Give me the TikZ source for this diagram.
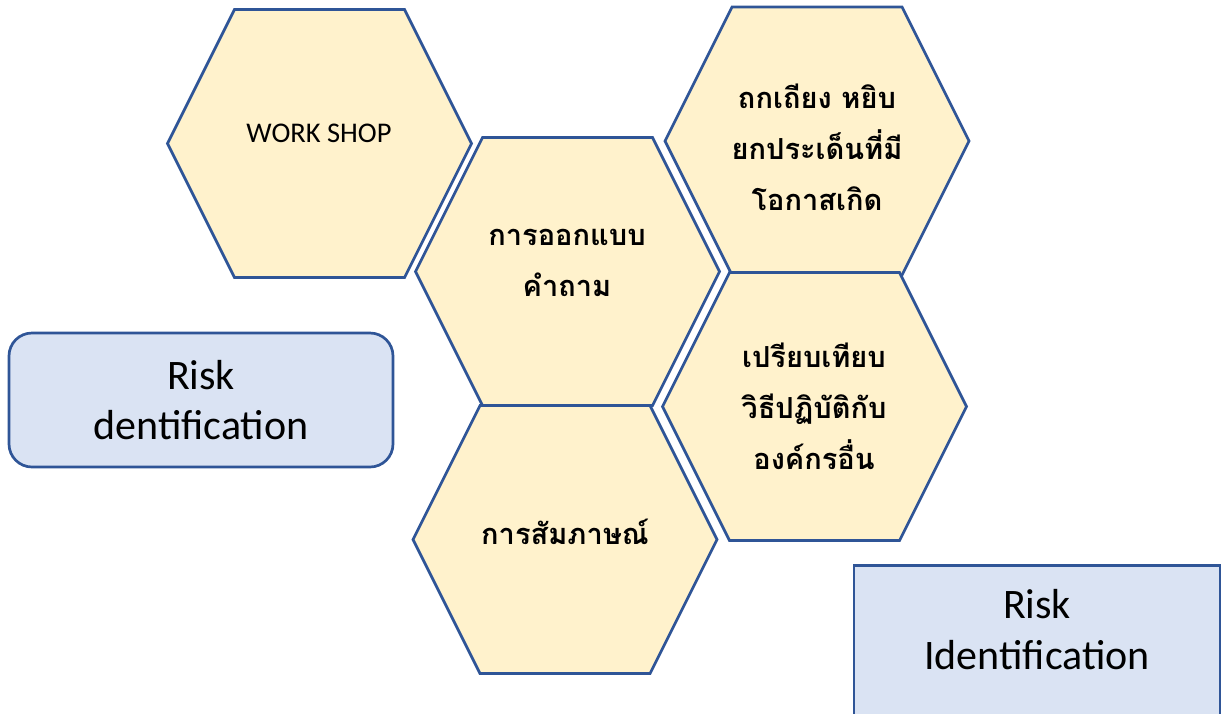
\documentclass[tikz,border=0pt]{standalone}
\usepackage{fontspec}
\setmainfont{Carlito}
\newfontfamily\thaifont[Script=Thai]{Loma}
\usepackage{tikz}
\definecolor{hexfill}{HTML}{FFF2CC}
\definecolor{boxfill}{HTML}{DAE3F3}
\definecolor{edgeblue}{HTML}{2F5597}
\tikzstyle{hex}=[draw=edgeblue, fill=hexfill, line width=2.7pt, line join=miter]
\tikzstyle{hexlabel}=[align=center, inner sep=0pt, font=\thaifont\bfseries\fontsize{29}{51}\selectfont]
\tikzstyle{wslabel}=[inner sep=0pt, font=\fontsize{28.5}{34}\selectfont]
\tikzstyle{riskbox}=[draw=edgeblue, fill=boxfill, line width=2.7pt, minimum width=384pt, minimum height=134pt, align=center, font=\fontsize{42}{50}\selectfont]
\tikzstyle{risktext}=[align=center, inner sep=0pt, font=\fontsize{42}{51}\selectfont]
% a hexagon round the centre #1,#2
\newcommand{\hexshape}[2]{\draw[hex] (#1-152,#2) -- (#1-85,#2-134) -- (#1+85,#2-134) -- (#1+152,#2) -- (#1+85,#2+134) -- (#1-85,#2+134) -- cycle;}

\begin{document}
\begin{tikzpicture}[x=1pt,y=-1pt]
	%The canvas
	\useasboundingbox (0,0) rectangle (1223,713);
	
	%The hexagons
	\hexshape{319.5}{143.5}
	\hexshape{817}{141}
	\hexshape{567.5}{271.5}
	\hexshape{814.5}{406.5}
	\hexshape{565}{539.5}
	
	%The hexagon labels
	\draw (319,133) node[wslabel] (workshop) {WORK SHOP};
	\draw (567,263) node[hexlabel] (design) {การออกแบบ\\คำถาม};
	\draw (817,147) node[hexlabel] (debate) {ถกเถียง หยิบ\\ยกประเด็นที่มี\\โอกาสเกิด};
	\draw (814,406) node[hexlabel] (compare) {เปรียบเทียบ\\วิธีปฏิบัติกับ\\องค์กรอื่น};
	\draw (565,532) node[hexlabel] (interview) {การสัมภาษณ์};
	
	%The risk boxes
	\draw (201,400) node[riskbox, rounded corners=23pt] (riskleft) {Risk\\dentification};
	\draw (1037,564) node[riskbox, anchor=north, minimum width=366pt, minimum height=200pt] (riskright) {};
	\draw (1037,630) node[risktext] (riskrighttext) {Risk\\Identification};
\end{tikzpicture}
\end{document}
